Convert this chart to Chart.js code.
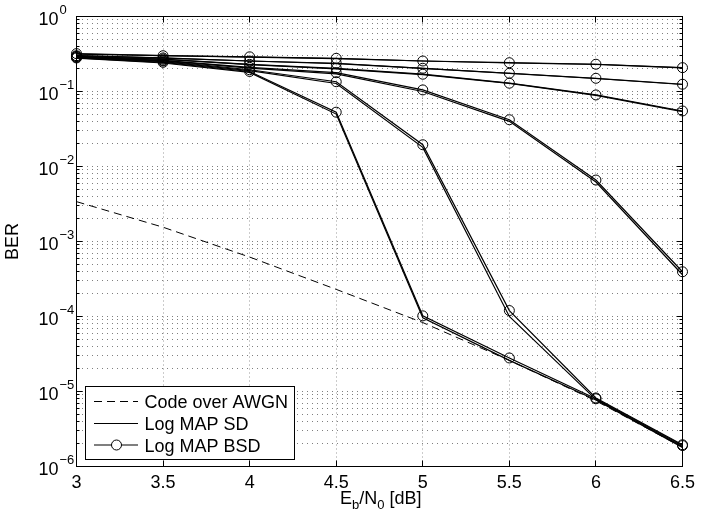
<!DOCTYPE html>
<html><head><meta charset="utf-8">
<script src="https://cdn.jsdelivr.net/npm/chart.js@4"></script>
<style>html,body{margin:0;padding:0;background:#fff}</style>
</head><body>
<canvas id="c" width="722" height="517" style="display:block;width:722px;height:517px"></canvas>
<script>
// ---- data ----
const ebn0 = [3, 3.5, 4, 4.5, 5, 5.5, 6, 6.5];
const xTickLabels = ['3', '3.5', '4', '4.5', '5', '5.5', '6', '6.5'];
const yTickExponents = [0, -1, -2, -3, -4, -5, -6];

const awgn = [3.4e-3, 1.55e-3, 6.2e-4, 2.3e-4, 8.3e-5, 2.6e-5, 7.5e-6, 1.8e-6];

const bsd1 = [0.32, 0.30, 0.29, 0.277, 0.255, 0.242, 0.231, 0.208];
const bsd2 = [0.30, 0.28, 0.255, 0.238, 0.204, 0.175, 0.150, 0.125];
const bsd3 = [0.295, 0.27, 0.23, 0.204, 0.170, 0.129, 0.090, 0.055];
const bsd4 = [0.29, 0.26, 0.21, 0.178, 0.105, 0.042, 6.6e-3, 3.95e-4];
const bsd5 = [0.285, 0.255, 0.195, 0.135, 0.0195, 1.2e-4, 8.2e-6, 1.95e-6];
const bsd6 = [0.28, 0.245, 0.185, 0.053, 1.02e-4, 2.8e-5, 8.0e-6, 1.9e-6];

const sd1 = [0.315, 0.30, 0.288, 0.275, 0.255, 0.24, 0.23, 0.207];
const sd2 = [0.30, 0.278, 0.255, 0.235, 0.203, 0.174, 0.149, 0.124];
const sd3 = [0.293, 0.268, 0.228, 0.20, 0.168, 0.128, 0.089, 0.054];
const sd4 = [0.288, 0.258, 0.205, 0.172, 0.10, 0.040, 6.2e-3, 3.6e-4];
const sd5 = [0.283, 0.25, 0.19, 0.128, 0.018, 1.0e-4, 7.8e-6, 1.85e-6];
const sd6 = [0.278, 0.24, 0.18, 0.050, 9.6e-5, 2.6e-5, 7.7e-6, 1.8e-6];

const legendLabels = ['Code over AWGN', 'Log MAP SD', 'Log MAP BSD'];

// ---- helpers ----
const FONT = '"Liberation Sans", Arial, Helvetica, sans-serif';
const pts = arr => ebn0.map((x, i) => ({x: x, y: arr[i]}));
const logTicks = [];
for (let e = -6; e <= 0; e++) {
  for (let m = 1; m <= 9; m++) {
    const v = m * Math.pow(10, e);
    if (v <= 1.0000001) logTicks.push(v);
  }
}

const datasets = [];
datasets.push({label: legendLabels[0], data: pts(awgn), borderColor: '#000', borderWidth: 1,
  borderDash: [8, 5], pointRadius: 0, fill: false, tension: 0, clip: false});
[sd1, sd2, sd3, sd4, sd5, sd6].forEach(s => datasets.push({label: legendLabels[1], data: pts(s),
  borderColor: '#000', borderWidth: 1.2, pointRadius: 0, fill: false, tension: 0, clip: false}));
[bsd1, bsd2, bsd3, bsd4, bsd5, bsd6].forEach(s => datasets.push({label: legendLabels[2], data: pts(s),
  borderColor: '#000', borderWidth: 1.2, pointRadius: 5, pointStyle: 'circle',
  pointBackgroundColor: 'rgba(0,0,0,0)', pointBorderColor: '#000', pointBorderWidth: 1,
  fill: false, tension: 0, clip: false}));

const deco = {
  id: 'deco',
  afterDatasetsDraw(chart) {
    const {ctx, chartArea: a, scales: {x, y}} = chart;
    ctx.save();
    ctx.strokeStyle = '#000';
    ctx.lineWidth = 1;
    ctx.setLineDash([]);
    ctx.beginPath();
    ebn0.forEach(v => {
      const px = Math.round(x.getPixelForValue(v) - 0.5) + 0.5;
      ctx.moveTo(px, a.bottom); ctx.lineTo(px, a.bottom - 6);
      ctx.moveTo(px, a.top); ctx.lineTo(px, a.top + 6);
    });
    logTicks.forEach(v => {
      const py = Math.round(y.getPixelForValue(v) - 0.5) + 0.5;
      const m = Math.round(v / Math.pow(10, Math.floor(Math.log10(v) + 1e-9)));
      const L = (m === 1) ? 6 : 3;
      ctx.moveTo(a.left, py); ctx.lineTo(a.left + L, py);
      ctx.moveTo(a.right, py); ctx.lineTo(a.right - L, py);
    });
    ctx.stroke();
    ctx.strokeRect(a.left, a.top, a.right - a.left, a.bottom - a.top);

    // legend
    const lx = 85.5, ly = 386.5, lw = 209, lh = 73;
    ctx.fillStyle = '#fff';
    ctx.fillRect(lx, ly, lw, lh);
    ctx.strokeRect(lx, ly, lw, lh);
    const rows = [401.5, 423.5, 445];
    ctx.font = '18px ' + FONT;
    ctx.fillStyle = '#000';
    ctx.textAlign = 'left';
    ctx.textBaseline = 'alphabetic';
    rows.forEach((ry, i) => {
      ctx.beginPath();
      ctx.lineWidth = i === 0 ? 1 : 1.2;
      ctx.setLineDash(i === 0 ? [8, 5] : []);
      ctx.moveTo(94, ry); ctx.lineTo(138, ry);
      ctx.stroke();
      ctx.setLineDash([]);
      if (i === 2) {
        ctx.beginPath();
        ctx.lineWidth = 1;
        ctx.fillStyle = '#fff';
        ctx.arc(116.5, ry, 5, 0, Math.PI * 2);
        ctx.fill();
        ctx.stroke();
        ctx.fillStyle = '#000';
      }
      ctx.fillText(legendLabels[i], 144.5, ry + 6.5);
    });
    ctx.restore();
  },
  afterDraw(chart) {
    const {ctx, chartArea: a, scales: {x, y}} = chart;
    ctx.save();
    ctx.fillStyle = '#000';
    // x tick labels
    ctx.font = '18px ' + FONT;
    ctx.textAlign = 'center';
    ctx.textBaseline = 'alphabetic';
    ebn0.forEach((v, i) => {
      ctx.fillText(xTickLabels[i], x.getPixelForValue(v), 488);
    });
    // y tick labels with superscript
    yTickExponents.forEach(e => {
      const py = y.getPixelForValue(Math.pow(10, e));
      ctx.font = '18px ' + FONT;
      ctx.textAlign = 'right';
      ctx.fillText('10', 58.5, py + 8);
      ctx.font = '13px ' + FONT;
      ctx.textAlign = 'left';
      ctx.fillText(e === 0 ? '0' : '\u2212' + Math.abs(e), 59.5, py - 2.5);
    });
    // x title: E_b/N_0 [dB]
    const parts = [['E', 18, 0], ['b', 13, 5], ['/N', 18, 0], ['0', 13, 5], [' [dB]', 18, 0]];
    let w = 0;
    parts.forEach(p => { ctx.font = p[1] + 'px ' + FONT; w += ctx.measureText(p[0]).width; });
    let cx = 421.5 - w;
    ctx.textAlign = 'left';
    parts.forEach(p => {
      ctx.font = p[1] + 'px ' + FONT;
      ctx.fillText(p[0], cx, 504 + p[2]);
      cx += ctx.measureText(p[0]).width;
    });
    // y title
    ctx.translate(18, (a.top + a.bottom) / 2);
    ctx.rotate(-Math.PI / 2);
    ctx.font = '18px ' + FONT;
    ctx.textAlign = 'center';
    ctx.fillText('BER', 0, 0);
    ctx.restore();
  }
};

new Chart(document.getElementById('c'), {
  type: 'line',
  data: {datasets: datasets},
  options: {
    responsive: false,
    animation: false,
    devicePixelRatio: 1,
    layout: {padding: {left: 76.5, right: 39.5, top: 16.5, bottom: 50.5}},
    plugins: {legend: {display: false}, tooltip: {enabled: false}},
    scales: {
      x: {
        type: 'linear', min: 3, max: 6.5,
        ticks: {display: false, stepSize: 0.5},
        grid: {color: 'rgba(0,0,0,0.4)', lineWidth: 1, drawTicks: false},
        border: {display: false, dash: [1, 3]}
      },
      y: {
        type: 'logarithmic', min: 1e-6, max: 1,
        ticks: {display: false, autoSkip: false},
        afterBuildTicks: s => { s.ticks = logTicks.map(v => ({value: v})); },
        grid: {color: 'rgba(0,0,0,0.5)', lineWidth: 1, drawTicks: false},
        border: {display: false, dash: [1, 4]}
      }
    }
  },
  plugins: [deco]
});
</script>
</body></html>
